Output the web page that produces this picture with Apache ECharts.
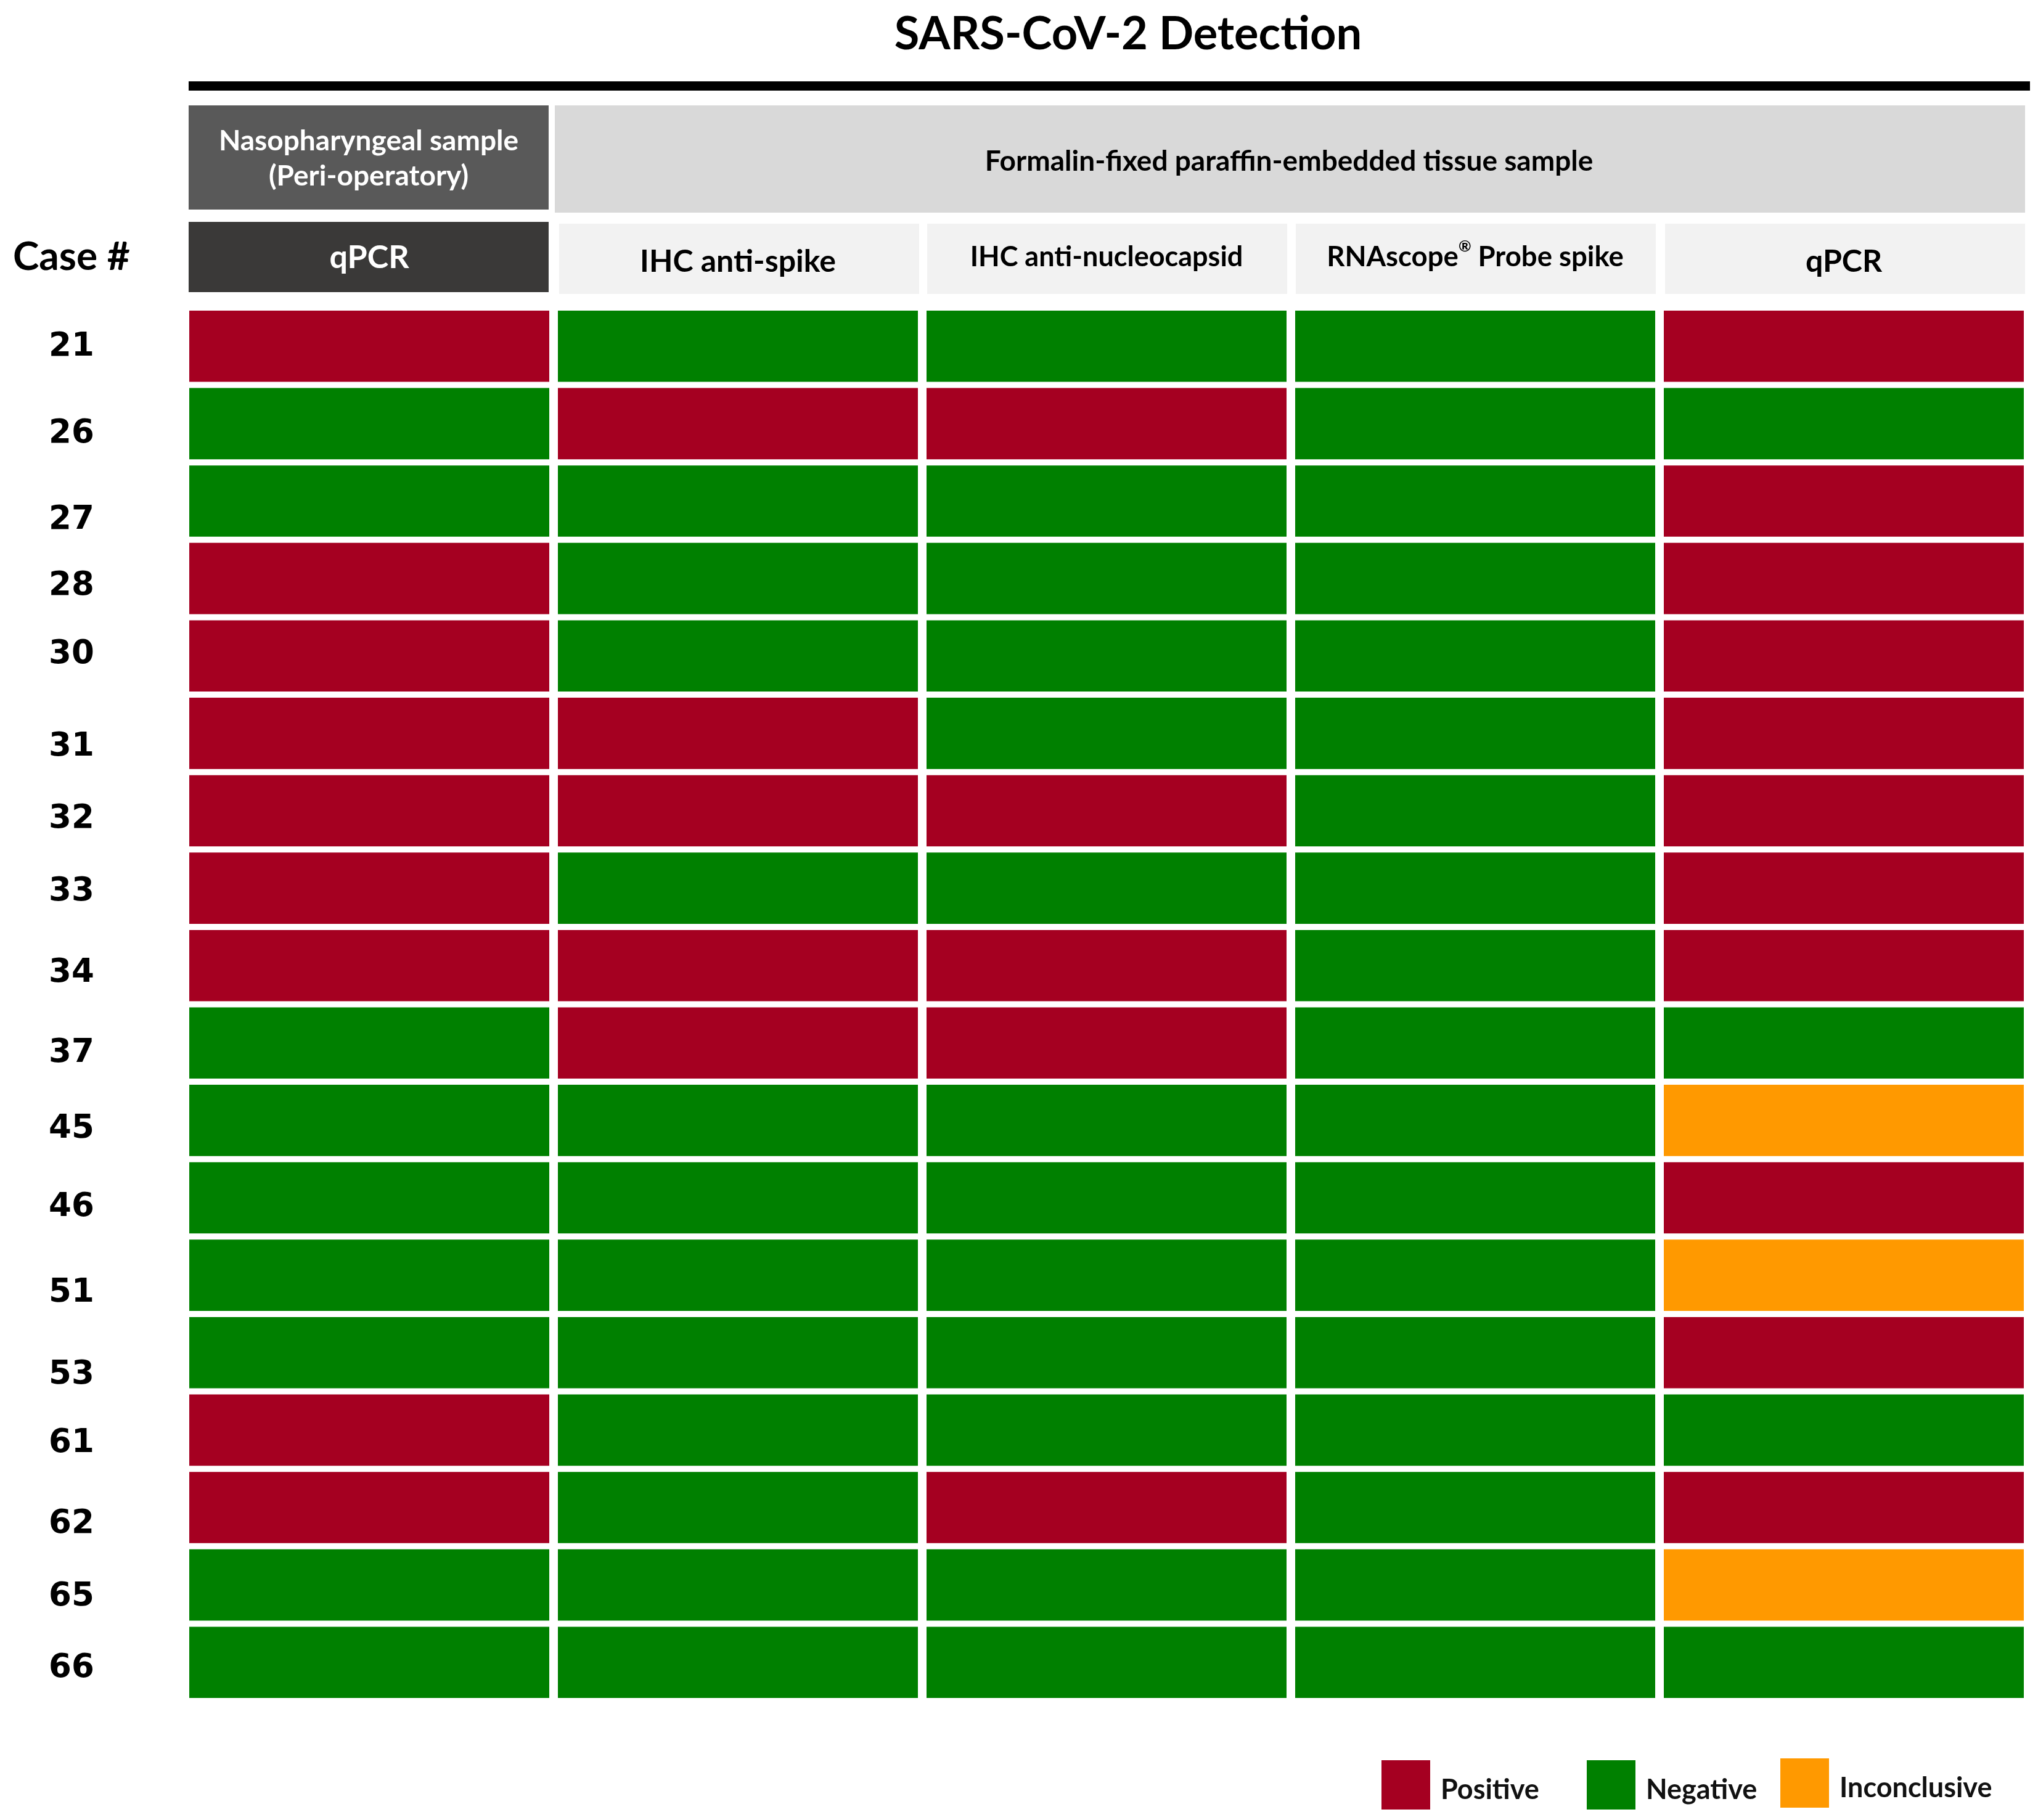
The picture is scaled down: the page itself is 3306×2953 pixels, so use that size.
<!DOCTYPE html>
<html>
<head>
<meta charset="utf-8">
<script src="https://cdn.jsdelivr.net/npm/echarts@6/dist/echarts.min.js"></script>
<style>
  html, body { margin: 0; padding: 0; background: #ffffff; }
  #chart { width: 3306px; height: 2953px; }
</style>
</head>
<body>
<div id="chart"></div>
<script>
// ---------- DATA ----------
const cases = ['21','26','27','28','30','31','32','33','34','37','45','46','51','53','61','62','65','66'];
const columns = ['qPCR', 'IHC anti-spike', 'IHC anti-nucleocapsid', 'RNAscope® Probe spike', 'qPCR '];
// P = Positive, N = Negative, I = Inconclusive (one entry per case, top to bottom)
const npQpcr        = ['P','N','N','P','P','P','P','P','P','N','N','N','N','N','P','P','N','N'];
const ihcSpike      = ['N','P','N','N','N','P','P','N','P','P','N','N','N','N','N','N','N','N'];
const ihcNucleo     = ['N','P','N','N','N','N','P','N','P','P','N','N','N','N','N','P','N','N'];
const rnascopeSpike = ['N','N','N','N','N','N','N','N','N','N','N','N','N','N','N','N','N','N'];
const ffpeQpcr      = ['P','N','P','P','P','P','P','P','P','N','I','P','I','P','N','P','I','N'];
const statusCodes = ['P','N','I'];
const statusNames = ['Positive','Negative','Inconclusive'];

// ---------- STYLE ----------
const statusColors = ['#A50021', '#008000', '#FF9900'];
const CELL_GAP_X = 14, CELL_GAP_Y = 10;
const FONT = 'Lato, "Open Sans", sans-serif';
// vertical nudges (px) of the case labels, as hand-placed in the original figure
const caseLabelNudge = [-6, 10, 24, 6, -9, 15, 7, -1, 6, 10, 7, 9, 22, 29, 15, 20, 13, 3];
const CASE_LABEL_BASE_SHIFT = 7;

const table = [npQpcr, ihcSpike, ihcNucleo, rnascopeSpike, ffpeQpcr];

function seriesData(code) {
  const out = [];
  table.forEach((col, ci) => {
    col.forEach((v, ri) => { if (v === code) out.push([ci, ri]); });
  });
  return out;
}

function renderCell(params, api) {
  const c = api.coord([api.value(0), api.value(1)]);
  const s = api.size([1, 1]);
  const w = s[0] - CELL_GAP_X, h = s[1] - CELL_GAP_Y;
  return { type: 'rect', shape: { x: c[0] - w / 2, y: c[1] - h / 2, width: w, height: h }, style: api.style() };
}

const series = statusCodes.map((code, i) => ({
  type: 'custom',
  name: statusNames[i],
  renderItem: renderCell,
  itemStyle: { color: statusColors[i] },
  data: seriesData(code),
  encode: { x: 0, y: 1 }
}));

const headerStyles = ['h0', 'h1', 'h2', 'h3', 'h1'];

const caseRich = {};
caseLabelNudge.forEach((n, i) => {
  const d = n + CASE_LABEL_BASE_SHIFT;
  caseRich['r' + i] = {
    fontFamily: '"DejaVu Sans", sans-serif', fontWeight: 'bold', fontSize: 53, color: '#000',
    padding: d >= 0 ? [2 * d, 0, 0, 0] : [0, 0, -2 * d, 0]
  };
});

const legendPos = [[2241, 2856], [2574, 2856], [2888, 2853]];

const option = {
  animation: false,
  backgroundColor: '#ffffff',
  title: {
    text: 'SARS-CoV-2 Detection',
    left: 1830, top: 19, padding: 0, textAlign: 'center',
    textStyle: { fontFamily: FONT, fontWeight: 'bold', fontSize: 74, color: '#000' }
  },
  legend: statusNames.map((n, i) => ({
    data: [n], left: legendPos[i][0], top: legendPos[i][1], padding: 0,
    icon: 'rect', itemWidth: 79, itemHeight: 80, selectedMode: false,
    formatter: '{t|{name}}',
    textStyle: {
      fontFamily: FONT, fontWeight: 'bold', fontSize: 45, color: '#111',
      rich: { t: { fontFamily: FONT, fontWeight: 'bold', fontSize: 45, color: '#111', padding: [16, 0, 0, 12] } }
    }
  })),
  grid: { left: 300, top: 499, width: 2990, height: 2261 },
  xAxis: {
    type: 'category', data: columns, position: 'top',
    axisLine: { show: false }, axisTick: { show: false }, splitLine: { show: false },
    axisLabel: {
      interval: 0, margin: 82, verticalAlign: 'middle',
      formatter: (v, i) => {
        const st = headerStyles[i];
        const txt = v.trim();
        if (txt.indexOf('®') >= 0) {
          const parts = txt.split('®');
          return '{' + st + '|' + parts[0] + '}{sup|®}{' + st + '|' + parts[1] + '}';
        }
        return '{' + st + '|' + txt + '}';
      },
      rich: {
        h0: { fontFamily: FONT, fontWeight: 'bold', fontSize: 52, color: '#ffffff', lineHeight: 60, padding: [2, 0, 0, 0] },
        h1: { fontFamily: FONT, fontWeight: 'bold', fontSize: 50, color: '#000000', lineHeight: 60, padding: [16, 0, 0, 0] },
        h2: { fontFamily: FONT, fontWeight: 'bold', fontSize: 45, color: '#000000', lineHeight: 60 },
        h3: { fontFamily: FONT, fontWeight: 'bold', fontSize: 45.5, color: '#000000', lineHeight: 60 },
        sup: { fontFamily: FONT, fontWeight: 'bold', fontSize: 25, color: '#000000', lineHeight: 30, verticalAlign: 'top', padding: [0, 0, 14, 0] }
      }
    }
  },
  yAxis: {
    type: 'category', data: cases, inverse: true,
    axisLine: { show: false }, axisTick: { show: false }, splitLine: { show: false },
    axisLabel: {
      interval: 0, margin: 184, align: 'center',
      formatter: (v, i) => '{r' + i + '|' + v + '}',
      rich: caseRich,
      fontFamily: '"DejaVu Sans", sans-serif', fontWeight: 'bold', fontSize: 53, color: '#000'
    }
  },
  graphic: [
    { type: 'rect', z: -10, shape: { x: 306, y: 132, width: 2987, height: 15 }, style: { fill: '#000000' } },
    { type: 'rect', z: -10, shape: { x: 306, y: 171, width: 584, height: 169 }, style: { fill: '#595959' } },
    { type: 'rect', z: -10, shape: { x: 900, y: 171, width: 2385, height: 174 }, style: { fill: '#D9D9D9' } },
    { type: 'rect', z: -10, shape: { x: 306, y: 360, width: 584, height: 114 }, style: { fill: '#3A3938' } },
    { type: 'rect', z: -10, shape: { x: 907, y: 363, width: 584, height: 114 }, style: { fill: '#F2F2F2' } },
    { type: 'rect', z: -10, shape: { x: 1504, y: 363, width: 584, height: 114 }, style: { fill: '#F2F2F2' } },
    { type: 'rect', z: -10, shape: { x: 2102, y: 363, width: 584, height: 114 }, style: { fill: '#F2F2F2' } },
    { type: 'rect', z: -10, shape: { x: 2701, y: 363, width: 584, height: 114 }, style: { fill: '#F2F2F2' } },
    { type: 'text', x: 598, y: 229, style: { text: 'Nasopharyngeal sample', fill: '#ffffff', font: 'bold 46px ' + FONT, textAlign: 'center', textVerticalAlign: 'middle' } },
    { type: 'text', x: 598, y: 286, style: { text: '(Peri-operatory)', fill: '#ffffff', font: 'bold 46px ' + FONT, textAlign: 'center', textVerticalAlign: 'middle' } },
    { type: 'text', x: 2091, y: 262, style: { text: 'Formalin-fixed paraffin-embedded tissue sample', fill: '#000000', font: 'bold 46px ' + FONT, textAlign: 'center', textVerticalAlign: 'middle' } },
    { type: 'text', x: 21, y: 417, style: { text: 'Case #', fill: '#000000', font: 'bold 64px ' + FONT, textAlign: 'left', textVerticalAlign: 'middle' } }
  ],
  series: series
};

const chart = echarts.init(document.getElementById('chart'), null, { renderer: 'canvas' });
chart.setOption(option);
</script>
</body>
</html>
